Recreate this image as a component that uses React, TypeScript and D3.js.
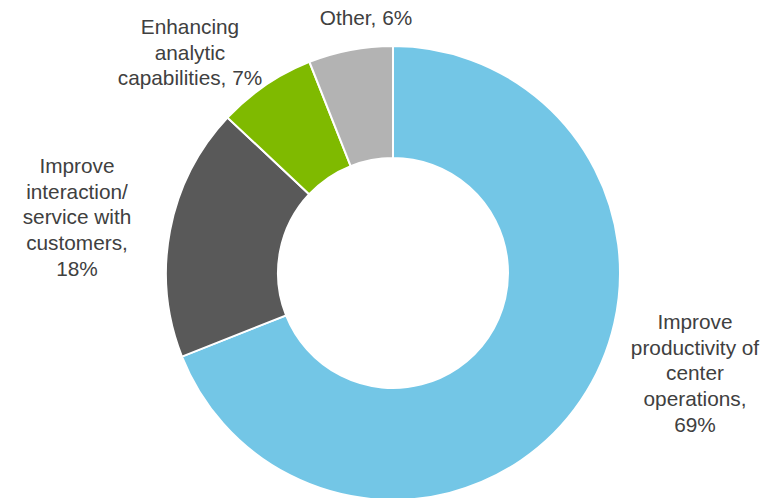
import * as d3 from "d3";

const categories = [
  "Improve productivity of center operations",
  "Improve interaction/ service with customers",
  "Enhancing analytic capabilities",
  "Other",
];
const values = [69, 18, 7, 6];
const colors = ["#73C6E6", "#595959", "#7FBA00", "#B3B3B3"];
// label lines as they wrap in the picture
const labelLines = [
  ["Improve", "productivity of", "center", "operations,", "69%"],
  ["Improve", "interaction/", "service with", "customers,", "18%"],
  ["Enhancing", "analytic", "capabilities, 7%"],
  ["Other, 6%"],
];
const labelPos = [
  [695, 323],
  [77, 167],
  [190, 28],
  [366, 19],
];

export default function App() {
  const width = 776;
  const height = 498;
  const cx = 393;
  const cy = 273;
  const outerR = 227;
  const innerR = 115;

  const pie = d3.pie<number>().sort(null).value((d) => d);
  const arcs = pie(values);
  const arc = d3.arc<d3.PieArcDatum<number>>().innerRadius(innerR).outerRadius(outerR);

  return (
    <svg
      width={width}
      height={height}
      style={{position: "absolute", left: 0, top: 0, display: "block", background: "#fff"}}
    >
      <g transform={`translate(${cx},${cy})`}>
        {arcs.map((a, i) => (
          <path
            key={categories[i]}
            d={arc(a) ?? ""}
            fill={colors[i]}
            stroke="#fff"
            strokeWidth={2}
          />
        ))}
      </g>
      {labelLines.map((lines, i) => (
        <text
          key={categories[i]}
          x={labelPos[i][0]}
          y={labelPos[i][1]}
          textAnchor="middle"
          fontFamily="Liberation Sans, Arial, sans-serif"
          fontSize={20.8}
          fill="#404040"
          dominantBaseline="middle"
        >
          {lines.map((l, j) => (
            <tspan key={j} x={labelPos[i][0]} dy={j === 0 ? 0 : 25.7}>
              {l}
            </tspan>
          ))}
        </text>
      ))}
    </svg>
  );
}
